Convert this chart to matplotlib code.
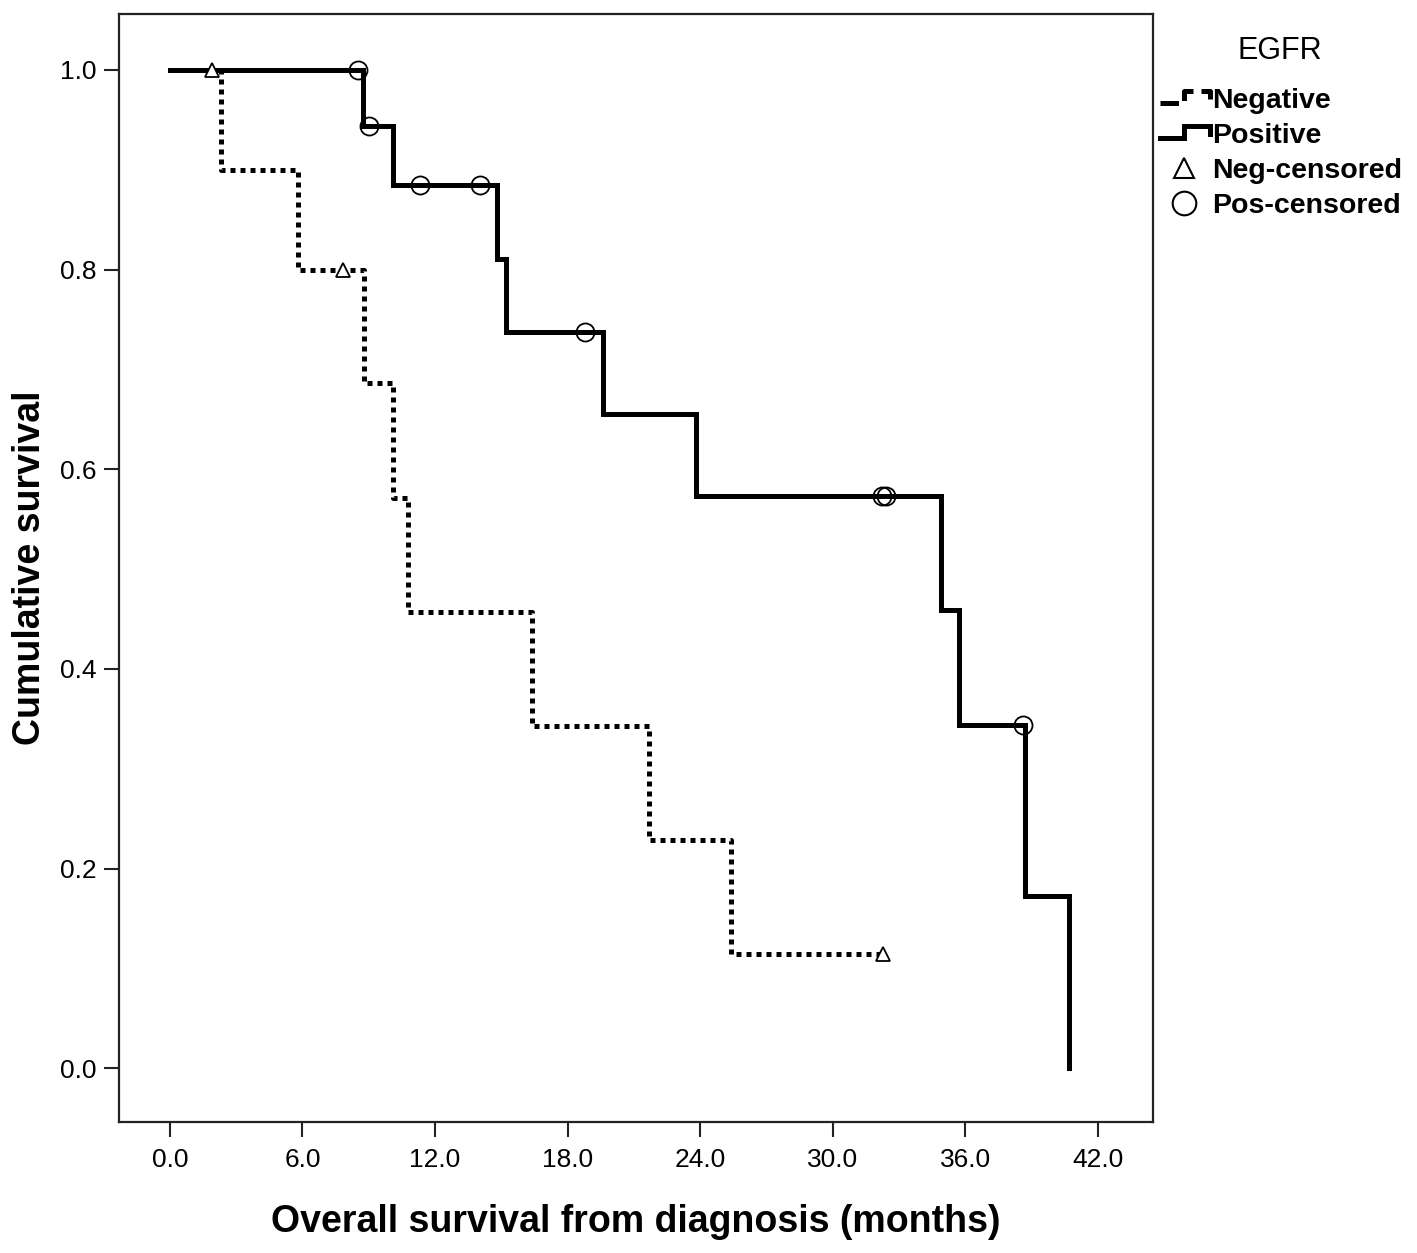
import matplotlib
matplotlib.use("Agg")
import matplotlib.pyplot as plt
from matplotlib.lines import Line2D
from matplotlib.legend_handler import HandlerBase

plt.rcParams['font.family'] = ['Liberation Sans', 'DejaVu Sans']

# Kaplan-Meier steps (months, cumulative survival)
neg_time = [0.0, 2.3, 5.8, 8.8, 10.1, 10.8, 16.4, 21.7, 25.4, 32.3]
neg_surv = [1.0, 0.9, 0.8, 0.686, 0.571, 0.457, 0.343, 0.229, 0.114, 0.114]
neg_cens_time = [1.9, 7.85, 32.3]
neg_cens_surv = [1.0, 0.8, 0.114]

pos_time = [0.0, 8.75, 10.1, 14.8, 15.2, 19.6, 23.8, 34.9, 35.7, 38.7, 40.7]
pos_surv = [1.0, 0.944, 0.885, 0.811, 0.737, 0.655, 0.573, 0.459, 0.344, 0.172, 0.0]
pos_cens_time = [8.5, 9.0, 11.3, 14.05, 18.8, 32.25, 32.4, 38.6]
pos_cens_surv = [1.0, 0.944, 0.885, 0.885, 0.737, 0.573, 0.573, 0.344]

x_ticks = [0, 6, 12, 18, 24, 30, 36, 42]
y_ticks = [0.0, 0.2, 0.4, 0.6, 0.8, 1.0]


class StepHandler(HandlerBase):
    """legend handle drawn as a little step, like SPSS does"""
    def create_artists(self, legend, orig_handle, xdescent, ydescent,
                       width, height, fontsize, trans):
        x0 = -xdescent + 0.05 * width
        xs = [x0, x0 + 0.45 * width, x0 + 0.45 * width,
              -xdescent + width, -xdescent + width]
        ys = [-ydescent + 0.25 * height, -ydescent + 0.25 * height,
              -ydescent + 0.85 * height, -ydescent + 0.85 * height,
              -ydescent + 0.45 * height]
        ln = Line2D(xs, ys, color=orig_handle.get_color(),
                    lw=orig_handle.get_linewidth(),
                    linestyle=orig_handle.get_linestyle(),
                    solid_joinstyle='miter', dash_capstyle='butt')
        ln.set_transform(trans)
        return [ln]


fig = plt.figure(figsize=(14.17, 12.53), dpi=100)
ax = fig.add_axes([0.084, 0.1045, 0.7297, 0.8843])

ax.step(pos_time, pos_surv, where='post', color='black', lw=3.6,
        solid_joinstyle='miter', zorder=2)
ax.step(neg_time, neg_surv, where='post', color='black', lw=3.6,
        linestyle=(0, (1, 1)), dash_capstyle='butt', zorder=3)
ax.plot(pos_cens_time, pos_cens_surv, 'o', ms=13, mfc='none', mec='black',
        mew=1.3, zorder=4)
ax.plot(neg_cens_time, neg_cens_surv, '^', ms=10, mfc='white', mec='black',
        mew=1.3, zorder=4)

ax.set_xlim(-2.3, 44.5)
ax.set_ylim(-0.054, 1.056)
ax.set_xticks(x_ticks)
ax.set_xticklabels([f'{v:.1f}' for v in x_ticks])
ax.set_yticks(y_ticks)
ax.set_yticklabels([f'{v:.1f}' for v in y_ticks])
ax.tick_params(labelsize=19, length=11, width=1.5, color='#222222')
ax.tick_params(axis='x', pad=8)
ax.tick_params(axis='y', pad=5)
for sp in ax.spines.values():
    sp.set_linewidth(1.6)
    sp.set_color('#222222')

ax.set_xlabel('Overall survival from diagnosis (months)', fontsize=27,
              fontweight='bold', labelpad=23)
ax.set_ylabel('Cumulative survival', fontsize=27, fontweight='bold',
              labelpad=9)

h_neg = Line2D([], [], color='black', lw=3.6, linestyle=(0, (1, 1)))
h_pos = Line2D([], [], color='black', lw=3.6)
h_negc = Line2D([], [], marker='^', ls='none', ms=14, mfc='none',
                mec='black', mew=1.5)
h_posc = Line2D([], [], marker='o', ls='none', ms=17, mfc='none',
                mec='black', mew=1.5)
leg = fig.legend([h_neg, h_pos, h_negc, h_posc],
                 ['Negative', 'Positive', 'Neg-censored', 'Pos-censored'],
                 handler_map={h_neg: StepHandler(), h_pos: StepHandler()},
                 loc='upper left', bbox_to_anchor=(0.817, 0.9716),
                 frameon=False, title='EGFR', borderpad=0, borderaxespad=0,
                 handlelength=1.85, handletextpad=0.05, labelspacing=0.32,
                 prop={'size': 20.5, 'weight': 'bold'},
                 title_fontproperties={'size': 22})
leg._legend_box.sep = 16

fig.savefig('out.png', dpi=100)
